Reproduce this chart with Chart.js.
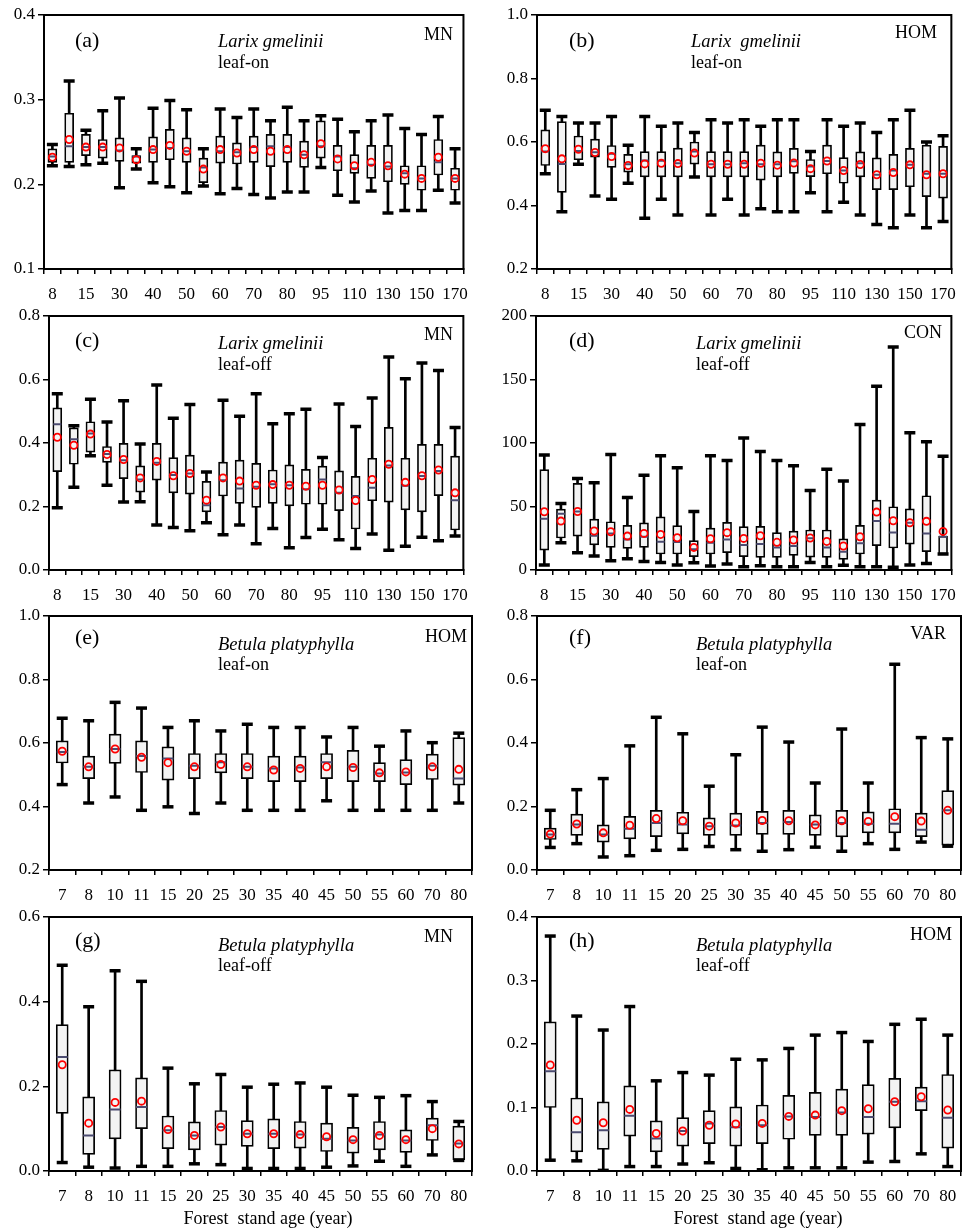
<!DOCTYPE html>
<html><head><meta charset="utf-8">
<script src="https://cdn.jsdelivr.net/npm/chart.js@4/dist/chart.umd.min.js"></script>
<style>
body{margin:0;background:#fff;width:969px;height:1228px;position:relative;overflow:hidden;}
canvas{position:absolute;}
.t{position:absolute;font-family:'Liberation Serif','Times New Roman',serif;color:#000;white-space:pre;line-height:1;transform:translateY(-50%);}
.i{font-style:italic}
</style></head><body>
<script>
// ---------- categories ----------
const larixCats = ['8','10','15','20','30','35','40','45','50','55','60','65','70','75','80','90','95','100','110','120','130','140','150','160','170'];
const betulaCats = ['7','8','10','11','15','20','25','30','35','40','45','50','55','60','70','80'];

// ---------- (a) Larix gmelinii leaf-on MN ----------
const a_max  = [0.247,0.322,0.264,0.287,0.302,0.242,0.290,0.299,0.288,0.242,0.289,0.279,0.289,0.275,0.291,0.275,0.281,0.277,0.262,0.275,0.282,0.266,0.259,0.280,0.242];
const a_q3   = [0.242,0.284,0.259,0.253,0.255,0.234,0.256,0.265,0.255,0.231,0.257,0.249,0.257,0.259,0.259,0.251,0.275,0.246,0.235,0.246,0.246,0.222,0.222,0.253,0.219];
const a_med  = [0.233,0.245,0.244,0.244,0.240,0.233,0.241,0.243,0.239,0.220,0.239,0.238,0.244,0.245,0.244,0.235,0.245,0.233,0.219,0.223,0.221,0.213,0.207,0.226,0.207];
const a_mean = [0.232,0.253,0.244,0.244,0.243,0.229,0.241,0.246,0.239,0.218,0.241,0.237,0.241,0.239,0.241,0.235,0.248,0.230,0.222,0.226,0.222,0.212,0.207,0.232,0.207];
const a_q1   = [0.226,0.226,0.234,0.231,0.227,0.225,0.226,0.229,0.226,0.202,0.225,0.224,0.226,0.221,0.226,0.220,0.231,0.216,0.213,0.207,0.203,0.200,0.193,0.211,0.193];
const a_min  = [0.222,0.221,0.223,0.225,0.196,0.218,0.202,0.197,0.190,0.198,0.189,0.195,0.188,0.184,0.191,0.191,0.220,0.187,0.179,0.192,0.166,0.169,0.169,0.193,0.178];

// ---------- (b) Larix gmelinii leaf-on HOM ----------
const b_max  = [0.70,0.68,0.66,0.66,0.68,0.59,0.68,0.65,0.66,0.63,0.67,0.66,0.67,0.65,0.67,0.67,0.57,0.67,0.65,0.66,0.63,0.67,0.70,0.60,0.62];
const b_q3   = [0.638,0.664,0.619,0.609,0.589,0.561,0.570,0.570,0.581,0.600,0.570,0.570,0.570,0.590,0.569,0.580,0.545,0.590,0.551,0.569,0.550,0.561,0.580,0.590,0.586];
const b_med  = [0.570,0.531,0.572,0.568,0.563,0.530,0.542,0.541,0.533,0.570,0.530,0.530,0.533,0.530,0.530,0.539,0.523,0.540,0.510,0.533,0.497,0.510,0.528,0.500,0.500];
const b_mean = [0.579,0.547,0.577,0.567,0.554,0.526,0.531,0.533,0.532,0.565,0.530,0.530,0.530,0.533,0.527,0.534,0.516,0.540,0.510,0.529,0.497,0.504,0.528,0.497,0.500];
const b_q1   = [0.526,0.441,0.544,0.552,0.520,0.505,0.490,0.490,0.490,0.530,0.490,0.490,0.490,0.480,0.490,0.501,0.491,0.500,0.470,0.490,0.450,0.450,0.459,0.428,0.423];
const b_min  = [0.50,0.38,0.53,0.43,0.42,0.47,0.36,0.42,0.37,0.49,0.37,0.42,0.37,0.39,0.38,0.38,0.44,0.38,0.41,0.37,0.34,0.33,0.37,0.33,0.35];

// ---------- (c) Larix gmelinii leaf-off MN ----------
const c_max  = [0.555,0.454,0.538,0.466,0.533,0.397,0.583,0.478,0.521,0.309,0.535,0.484,0.555,0.461,0.492,0.506,0.354,0.523,0.452,0.542,0.671,0.602,0.652,0.628,0.449];
const c_q3   = [0.511,0.448,0.467,0.389,0.399,0.328,0.399,0.354,0.362,0.279,0.340,0.346,0.336,0.315,0.331,0.317,0.327,0.312,0.295,0.352,0.449,0.352,0.396,0.396,0.359];
const c_med  = [0.459,0.412,0.430,0.365,0.346,0.285,0.338,0.299,0.304,0.204,0.283,0.257,0.262,0.270,0.267,0.254,0.285,0.243,0.233,0.259,0.329,0.265,0.296,0.312,0.220];
const c_mean = [0.418,0.393,0.428,0.364,0.348,0.290,0.342,0.297,0.304,0.220,0.290,0.280,0.267,0.269,0.267,0.264,0.267,0.252,0.219,0.285,0.333,0.276,0.297,0.315,0.243];
const c_q1   = [0.310,0.333,0.371,0.339,0.288,0.245,0.283,0.243,0.239,0.183,0.233,0.210,0.197,0.210,0.202,0.207,0.207,0.187,0.129,0.218,0.214,0.189,0.183,0.234,0.126];
const c_min  = [0.196,0.261,0.360,0.267,0.214,0.215,0.142,0.134,0.124,0.149,0.111,0.142,0.083,0.131,0.070,0.102,0.128,0.095,0.068,0.113,0.062,0.075,0.103,0.092,0.107];

// ---------- (d) Larix gmelinii leaf-off CON ----------
const d_max  = [90.5,52.4,72.1,68.7,91,57.1,74.7,89.9,80.5,46.1,89.9,86.2,104,93.3,86.2,82,62.6,79.4,70,114.5,144.7,175.6,108,100.9,89.6];
const d_q3   = [79,48,68.2,40.1,38,35.1,37.2,41.9,34.9,23.1,33,37.5,34.1,34.3,29.4,30.7,31.5,31.5,24.6,35.1,55,49.8,48.2,58.5,26.7];
const d_med  = [40.4,44.3,46,27,28.8,24.1,26.2,22.3,22,16.3,21.5,24.1,19.7,20.4,17.8,18.9,25,17.8,14.4,21,38.5,29.6,37.2,28.8,26.2];
const d_mean = [45.9,38.5,46.1,30.7,30.1,26.7,28.8,28,25.4,17.8,24.6,29.4,24.9,27,21.8,23.6,25.2,22.5,18.9,26.2,45.6,38.8,37.2,38.3,30.4];
const d_q1   = [15.7,25.2,26.7,19.7,17.8,17,17.8,12.6,12.6,10.5,12.6,13.6,10.5,10,10,11.5,10.2,10,8.4,12.6,19.1,17.3,20.4,14.4,12.6];
const d_min  = [3.9,21.5,13.6,11,7.3,8.9,6.6,6,3.9,5.8,3.1,4.7,2.6,3.4,2.6,2.6,6,2.6,3.7,2.6,2.6,2.1,3.9,5.2,12.6];

// ---------- (e) Betula platyphylla leaf-on HOM ----------
const e_max  = [0.678,0.670,0.728,0.710,0.649,0.670,0.638,0.659,0.649,0.649,0.619,0.649,0.590,0.638,0.601,0.631];
const e_q3   = [0.607,0.559,0.628,0.607,0.588,0.567,0.567,0.567,0.559,0.559,0.567,0.577,0.538,0.548,0.565,0.617];
const e_med  = [0.572,0.525,0.581,0.559,0.551,0.528,0.539,0.525,0.520,0.523,0.539,0.525,0.504,0.507,0.528,0.488];
const e_mean = [0.574,0.525,0.581,0.555,0.538,0.525,0.532,0.525,0.515,0.520,0.525,0.523,0.506,0.509,0.525,0.517];
const e_q1   = [0.537,0.488,0.536,0.507,0.483,0.488,0.506,0.488,0.478,0.478,0.488,0.478,0.478,0.469,0.485,0.467];
const e_min  = [0.469,0.411,0.430,0.388,0.399,0.378,0.411,0.388,0.388,0.388,0.418,0.388,0.388,0.388,0.388,0.411];

// ---------- (f) Betula platyphylla leaf-on VAR ----------
const f_max  = [0.188,0.253,0.288,0.391,0.481,0.429,0.264,0.363,0.450,0.403,0.274,0.444,0.274,0.648,0.417,0.413];
const f_q3   = [0.132,0.176,0.142,0.169,0.188,0.182,0.164,0.179,0.185,0.188,0.174,0.188,0.183,0.193,0.179,0.250];
const f_med  = [0.112,0.143,0.112,0.130,0.148,0.143,0.138,0.140,0.148,0.151,0.143,0.148,0.146,0.146,0.127,0.188];
const f_mean = [0.113,0.145,0.117,0.141,0.162,0.155,0.138,0.148,0.156,0.155,0.142,0.155,0.153,0.168,0.154,0.188];
const f_q1   = [0.096,0.109,0.088,0.098,0.105,0.114,0.109,0.109,0.112,0.112,0.109,0.104,0.117,0.117,0.105,0.078];
const f_min  = [0.071,0.083,0.041,0.045,0.062,0.065,0.074,0.064,0.059,0.064,0.072,0.059,0.083,0.065,0.088,0.075];

// ---------- (g) Betula platyphylla leaf-off MN ----------
const g_max  = [0.486,0.388,0.473,0.448,0.243,0.206,0.228,0.198,0.205,0.208,0.198,0.179,0.174,0.178,0.164,0.117];
const g_q3   = [0.346,0.175,0.239,0.220,0.130,0.116,0.143,0.119,0.123,0.117,0.113,0.103,0.117,0.097,0.125,0.106];
const g_med  = [0.269,0.084,0.145,0.151,0.096,0.084,0.104,0.088,0.088,0.086,0.076,0.072,0.086,0.072,0.108,0.065];
const g_mean = [0.251,0.113,0.162,0.165,0.098,0.084,0.104,0.088,0.088,0.086,0.081,0.074,0.084,0.074,0.100,0.064];
const g_q1   = [0.136,0.039,0.076,0.100,0.053,0.050,0.061,0.058,0.053,0.054,0.046,0.042,0.050,0.044,0.072,0.027];
const g_min  = [0.020,0.009,0.007,0.011,0.011,0.017,0.015,0.006,0.006,0.006,0.009,0.012,0.023,0.011,0.038,0.025];

// ---------- (h) Betula platyphylla leaf-off HOM ----------
const h_max  = [0.370,0.244,0.222,0.259,0.142,0.155,0.151,0.176,0.175,0.193,0.214,0.218,0.204,0.231,0.239,0.214];
const h_q3   = [0.235,0.115,0.109,0.134,0.079,0.084,0.095,0.101,0.104,0.119,0.124,0.129,0.136,0.146,0.132,0.152];
const h_med  = [0.157,0.061,0.064,0.087,0.051,0.063,0.075,0.069,0.072,0.086,0.085,0.092,0.085,0.109,0.110,0.084];
const h_mean = [0.167,0.080,0.076,0.097,0.059,0.063,0.072,0.074,0.075,0.086,0.088,0.095,0.098,0.109,0.117,0.096];
const h_q1   = [0.100,0.030,0.034,0.055,0.030,0.039,0.043,0.039,0.043,0.050,0.056,0.056,0.058,0.068,0.095,0.036];
const h_min  = [0.017,0.016,0.001,0.007,0.007,0.011,0.013,0.004,0.002,0.005,0.005,0.005,0.014,0.015,0.027,0.007];

// ---------- panel texts ----------
const panelLetters = ['(a)','(b)','(c)','(d)','(e)','(f)','(g)','(h)'];
const speciesNames = ['Larix gmelinii','Larix  gmelinii','Larix gmelinii','Larix gmelinii','Betula platyphylla','Betula platyphylla','Betula platyphylla','Betula platyphylla'];
const seasons = ['leaf-on','leaf-on','leaf-off','leaf-off','leaf-on','leaf-on','leaf-off','leaf-off'];
const indices = ['MN','HOM','MN','CON','HOM','VAR','MN','HOM'];
const xTitle = 'Forest  stand age (year)';

// ---------- layout (chart-area rectangles on the page) ----------
const FONT = "'Liberation Serif','Times New Roman',serif";
const YW = 40, XH = 40, PT = 14, PR = 4;
const panels = [
  {cats:larixCats, every:2, s:[a_max,a_q3,a_med,a_mean,a_q1,a_min], y:[0.1,0.4,0.1,1], L:44, T:15, R:474, B:269, bw:9, cap:5.5},
  {cats:larixCats, every:2, s:[b_max,b_q3,b_med,b_mean,b_q1,b_min], y:[0.2,1.0,0.2,1], L:537, T:15, R:962, B:269, bw:9, cap:5.5},
  {cats:larixCats, every:2, s:[c_max,c_q3,c_med,c_mean,c_q1,c_min], y:[0,0.8,0.2,1], L:49, T:316, R:474, B:570, bw:9, cap:5.5},
  {cats:larixCats, every:2, s:[d_max,d_q3,d_med,d_mean,d_q1,d_min], y:[0,200,50,0], L:536, T:316, R:962, B:570, bw:9, cap:5.5},
  {cats:betulaCats, every:1, s:[e_max,e_q3,e_med,e_mean,e_q1,e_min], y:[0.2,1.0,0.2,1], L:49, T:616, R:477, B:870, bw:12, cap:5.5},
  {cats:betulaCats, every:1, s:[f_max,f_q3,f_med,f_mean,f_q1,f_min], y:[0,0.8,0.2,1], L:537, T:616, R:966, B:870, bw:12, cap:5.5},
  {cats:betulaCats, every:1, s:[g_max,g_q3,g_med,g_mean,g_q1,g_min], y:[0,0.6,0.2,1], L:49, T:917, R:477, B:1171, bw:12, cap:5.5},
  {cats:betulaCats, every:1, s:[h_max,h_q3,h_med,h_mean,h_q1,h_min], y:[0,0.4,0.1,1], L:537, T:917, R:966, B:1171, bw:12, cap:5.5}
];
// annotation positions: [letterX, letterY, speciesX, speciesY, seasonY, indexRight, indexY]
const notePos = [
  [75,40,218,41,62,453,34],
  [569,40,691,41,62,937,32],
  [75,340,218,343,364,453,334],
  [569,340,696,343,364,942,332],
  [75,637,218,644,664,467,636],
  [569,637,696,644,664,946,633],
  [75,940,218,945,965,453,936],
  [569,940,696,945,965,952,934]
];
const xTitlePos = [[268,1218],[758,1218]];

const framePlugin = {
  id:'frame',
  afterDraw(chart){
    const a = chart.chartArea, c = chart.ctx;
    c.save(); c.strokeStyle='#000'; c.lineWidth=2;
    c.strokeRect(a.left, a.top, a.right-a.left, a.bottom-a.top);
    c.restore();
  }
};

function addText(txt, x, y, size, cls, right){
  const d = document.createElement('div');
  d.className = 't' + (cls ? ' ' + cls : '');
  d.textContent = txt;
  d.style.fontSize = size + 'px';
  d.style.top = y + 'px';
  if (right) { d.style.right = (969 - x) + 'px'; } else { d.style.left = x + 'px'; }
  document.body.appendChild(d);
}

panels.forEach((p, k) => {
  const cv = document.createElement('canvas');
  const w = (p.R - p.L) + YW + PR, h = (p.B - p.T) + PT + XH;
  cv.width = w; cv.height = h;
  cv.style.left = (p.L - YW) + 'px'; cv.style.top = (p.T - PT) + 'px';
  cv.style.width = w + 'px'; cv.style.height = h + 'px';
  document.body.appendChild(cv);
  const [mx, q3, md, mn, q1, mi] = p.s;
  const dec = p.y[3];
  new Chart(cv.getContext('2d'), {
    data: {
      labels: p.cats,
      datasets: [
        {type:'bar', data:p.cats.map((c,i)=>[mi[i], mx[i]]), backgroundColor:'#000', borderWidth:0, barThickness:2, grouped:false, order:6},
        {type:'bar', data:p.cats.map((c,i)=>[q1[i], q3[i]]), backgroundColor:'#f3f3f3', borderColor:'#000', borderWidth:1.7, borderSkipped:false, barThickness:p.bw, grouped:false, order:5},
        {type:'line', data:mx, showLine:false, pointStyle:'line', pointRadius:p.cap, pointHoverRadius:p.cap, pointBorderWidth:3.5, pointBorderColor:'#000', borderColor:'#000', order:4},
        {type:'line', data:mi, showLine:false, pointStyle:'line', pointRadius:p.cap, pointHoverRadius:p.cap, pointBorderWidth:3.5, pointBorderColor:'#000', borderColor:'#000', order:3},
        {type:'line', data:md, showLine:false, pointStyle:'line', pointRadius:p.bw/2-0.5, pointHoverRadius:p.bw/2-0.5, pointBorderWidth:2, pointBorderColor:'#4b4b70', borderColor:'#4b4b70', order:2},
        {type:'line', data:mn, showLine:false, pointStyle:'circle', pointRadius:3.6, pointHoverRadius:3.6, pointBorderWidth:1.8, pointBorderColor:'#ff0000', pointBackgroundColor:'rgba(0,0,0,0)', borderColor:'#ff0000', order:1}
      ]
    },
    options: {
      responsive:false, animation:false, events:[],
      layout:{padding:{top:PT, right:PR, left:0, bottom:0}},
      plugins:{legend:{display:false}, tooltip:{enabled:false}},
      scales:{
        x:{type:'category', offset:true,
           grid:{offset:true, drawOnChartArea:false, drawTicks:true, tickLength:5, color:'#000', lineWidth:1.5},
           border:{display:true, color:'#000', width:2},
           ticks:{autoSkip:false, maxRotation:0, minRotation:0, padding:10, color:'#000', font:{family:FONT, size:17},
                  callback:function(v,i){ return (i % p.every === 0) ? this.getLabelForValue(v) : ''; }},
           afterFit:(s)=>{ s.height = XH; }},
        y:{type:'linear', min:p.y[0], max:p.y[1],
           grid:{drawOnChartArea:false, drawTicks:true, tickLength:6, color:'#000', lineWidth:1.5},
           border:{display:true, color:'#000', width:2},
           ticks:{stepSize:p.y[2], padding:3, color:'#000', font:{family:FONT, size:17}, callback:(v)=>Number(v).toFixed(dec)},
           afterFit:(s)=>{ s.width = YW; }}
      }
    },
    plugins:[framePlugin]
  });
  const n = notePos[k];
  addText(panelLetters[k], n[0], n[1], 22, '', false);
  addText(speciesNames[k], n[2], n[3], 18.5, 'i', false);
  addText(seasons[k], n[2], n[4], 18, '', false);
  addText(indices[k], n[5], n[6], 18, '', true);
});
xTitlePos.forEach(([cx, cy]) => {
  const d = document.createElement('div');
  d.className = 't'; d.textContent = xTitle; d.style.fontSize = '18px';
  d.style.top = cy + 'px'; d.style.left = cx + 'px';
  d.style.transform = 'translate(-50%,-50%)';
  document.body.appendChild(d);
});
</script>
</body></html>
